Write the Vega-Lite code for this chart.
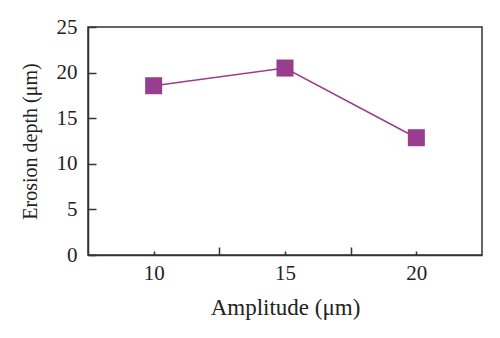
{
  "$schema": "https://vega.github.io/schema/vega-lite/v6.json",
  "autosize": "none",
  "padding": {"left": 88, "top": 27, "right": 18, "bottom": 83},
  "width": 394,
  "height": 228,
  "background": "white",
  "config": {
    "view": {"stroke": "#333333", "strokeWidth": 1.5},
    "font": "Liberation Serif",
    "axis": {
      "labelFont": "Liberation Serif",
      "titleFont": "Liberation Serif",
      "labelFontSize": 21,
      "titleFontSize": 20,
      "titleFontWeight": "normal",
      "labelColor": "#222222",
      "titleColor": "#222222",
      "domainColor": "#333333",
      "domainWidth": 1.5,
      "tickColor": "#333333",
      "tickWidth": 1.5,
      "grid": false
    }
  },
  "data": {
    "values": [
      {"amplitude": 10, "depth": 18.56},
      {"amplitude": 15, "depth": 20.5},
      {"amplitude": 20, "depth": 12.86}
    ]
  },
  "encoding": {
    "x": {
      "field": "amplitude",
      "type": "quantitative",
      "scale": {"domain": [7.5, 22.5], "nice": false, "zero": false},
      "axis": {
        "title": "Amplitude (μm)",
        "titleFontSize": 23,
        "values": [10, 12.5, 15, 17.5, 20],
        "labelExpr": "datum.value % 5 === 0 ? datum.label : ''",
        "tickSize": {"condition": {"test": "datum.value % 5 === 0", "value": -4}, "value": -8},
        "labelPadding": 11,
        "titlePadding": 13
      }
    },
    "y": {
      "field": "depth",
      "type": "quantitative",
      "scale": {"domain": [0, 25], "nice": false},
      "axis": {
        "title": "Erosion depth (μm)",
        "values": [0, 5, 10, 15, 20, 25],
        "tickSize": -8,
        "labelPadding": 19,
        "titlePadding": 16
      }
    }
  },
  "layer": [
    {"mark": {"type": "line", "color": "#993d8f", "strokeWidth": 1.5}},
    {"mark": {"type": "square", "color": "#993d8f", "opacity": 1, "size": 290, "filled": true}}
  ]
}
